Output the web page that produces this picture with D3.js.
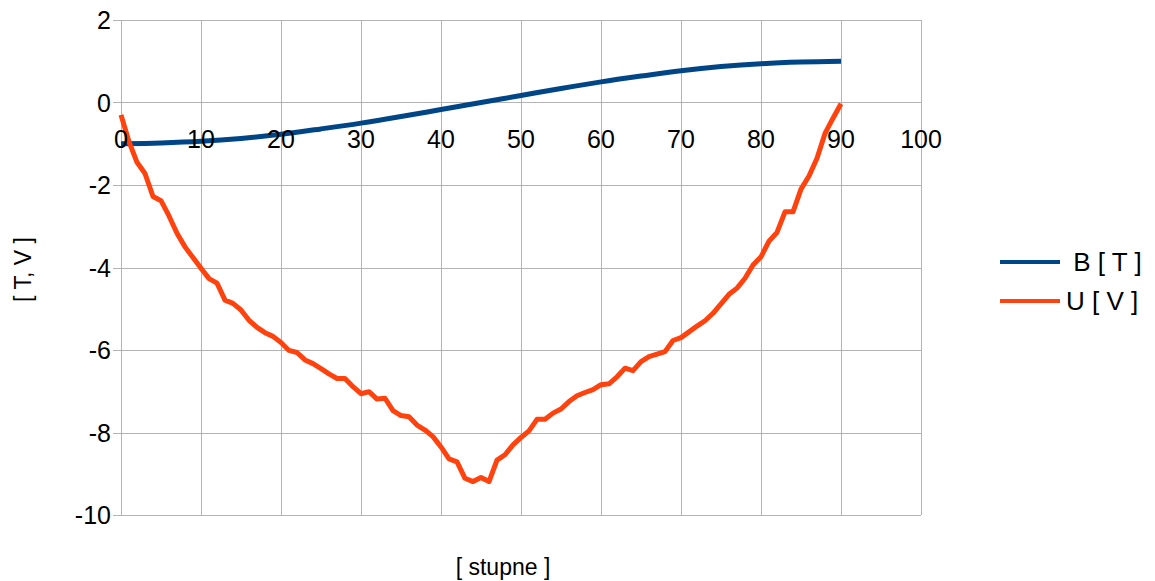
<!DOCTYPE html>
<html>
<head>
<meta charset="utf-8">
<script src="https://cdn.jsdelivr.net/npm/d3@7"></script>
<style>
  body { margin: 0; background: #fff; }
  svg { font-family: "Liberation Sans", Arial, sans-serif; }
</style>
</head>
<body>
<svg id="chart" width="1155" height="581"></svg>
<script>
// angle in degrees, 0..90 step 1
const angles = d3.range(0, 91);

// U [ V ], one value per degree
const uValues = [
  -0.30, -0.95, -1.45, -1.72, -2.28, -2.38, -2.75, -3.17, -3.50, -3.76,
  -4.02, -4.27, -4.38, -4.79, -4.87, -5.03, -5.28, -5.45, -5.58, -5.67,
  -5.82, -6.01, -6.06, -6.24, -6.33, -6.45, -6.58, -6.69, -6.69, -6.89,
  -7.06, -7.01, -7.19, -7.17, -7.47, -7.59, -7.62, -7.82, -7.94, -8.10,
  -8.35, -8.64, -8.71, -9.11, -9.19, -9.09, -9.19, -8.67, -8.54, -8.30,
  -8.12, -7.96, -7.68, -7.68, -7.53, -7.43, -7.25, -7.11, -7.03, -6.96,
  -6.84, -6.82, -6.65, -6.44, -6.50, -6.28, -6.16, -6.10, -6.04, -5.77,
  -5.70, -5.56, -5.42, -5.29, -5.11, -4.88, -4.65, -4.50, -4.26, -3.94,
  -3.74, -3.36, -3.15, -2.65, -2.65, -2.10, -1.78, -1.35, -0.75, -0.38,
  -0.03
];

// B [ T ] read every 5 degrees
const bAngles = [0, 5, 10, 15, 20, 25, 30, 35, 40, 45, 50, 55, 60, 65, 70, 75, 80, 85, 90];
const bValues = [-1.00, -0.98, -0.94, -0.87, -0.77, -0.64, -0.50, -0.34, -0.17, 0.00,
                 0.17, 0.34, 0.50, 0.64, 0.77, 0.87, 0.94, 0.98, 1.00];

const xTicks = [0, 10, 20, 30, 40, 50, 60, 70, 80, 90, 100];
const yTicks = [2, 0, -2, -4, -6, -8, -10];

const seriesNames = [" B [ T ]", "U [ V ]"];
const seriesColors = ["#004586", "#ff420e"];

const svg = d3.select("#chart");

const x = d3.scaleLinear().domain([0, 100]).range([121, 921]);
const y = d3.scaleLinear().domain([-10, 2]).range([515, 20]);

const grid = svg.append("g")
    .attr("stroke", "#b3b3b3")
    .attr("stroke-width", 1)
    .attr("shape-rendering", "crispEdges");

grid.selectAll("line.h")
    .data(yTicks)
    .join("line")
    .attr("class", "h")
    .attr("x1", x(0) - 8)
    .attr("x2", x(100))
    .attr("y1", d => Math.round(y(d)) + 0.5)
    .attr("y2", d => Math.round(y(d)) + 0.5);

grid.selectAll("line.v")
    .data(xTicks)
    .join("line")
    .attr("class", "v")
    .attr("y1", y(2))
    .attr("y2", y(-10))
    .attr("x1", d => Math.round(x(d)) + 0.5)
    .attr("x2", d => Math.round(x(d)) + 0.5);

// y tick labels
svg.append("g")
    .selectAll("text")
    .data(yTicks)
    .join("text")
    .attr("x", 111)
    .attr("y", d => y(d))
    .attr("dy", "0.36em")
    .attr("text-anchor", "end")
    .attr("font-size", 25)
    .attr("fill", "#000")
    .text(d => d);

// series
const lineU = d3.line()
    .x((d, i) => x(angles[i]))
    .y(d => y(d));

const lineB = d3.line()
    .x((d, i) => x(bAngles[i]))
    .y(d => y(d))
    .curve(d3.curveMonotoneX);

svg.append("path")
    .datum(bValues)
    .attr("fill", "none")
    .attr("stroke", seriesColors[0])
    .attr("stroke-width", 5)
    .attr("stroke-linejoin", "round")
    .attr("d", lineB);

svg.append("path")
    .datum(uValues)
    .attr("fill", "none")
    .attr("stroke", seriesColors[1])
    .attr("stroke-width", 5)
    .attr("stroke-linejoin", "round")
    .attr("d", lineU);

// x tick labels sit below the zero line
svg.append("g")
    .selectAll("text")
    .data(xTicks)
    .join("text")
    .attr("x", d => x(d))
    .attr("y", y(0) + 45)
    .attr("text-anchor", "middle")
    .attr("font-size", 25)
    .attr("fill", "#000")
    .text(d => d);

// axis titles
svg.append("text")
    .attr("transform", `translate(31,${(y(2) + y(-10)) / 2 + 2}) rotate(-90)`)
    .attr("text-anchor", "middle")
    .attr("font-size", 23)
    .text("[ T, V ]");

svg.append("text")
    .attr("x", 503)
    .attr("y", 575)
    .attr("text-anchor", "middle")
    .attr("font-size", 23)
    .text("[ stupne ]");

// legend
const legend = svg.append("g");
const legendRows = legend.selectAll("g")
    .data(seriesNames)
    .join("g")
    .attr("transform", (d, i) => `translate(1000,${262 + i * 39})`);

legendRows.append("line")
    .attr("x1", 0).attr("x2", 60)
    .attr("stroke", (d, i) => seriesColors[i])
    .attr("stroke-width", 4);

legendRows.append("text")
    .attr("x", 66)
    .attr("dy", "0.36em")
    .attr("font-size", 26)
    .attr("style", "white-space: pre")
    .text(d => d);
</script>
</body>
</html>
